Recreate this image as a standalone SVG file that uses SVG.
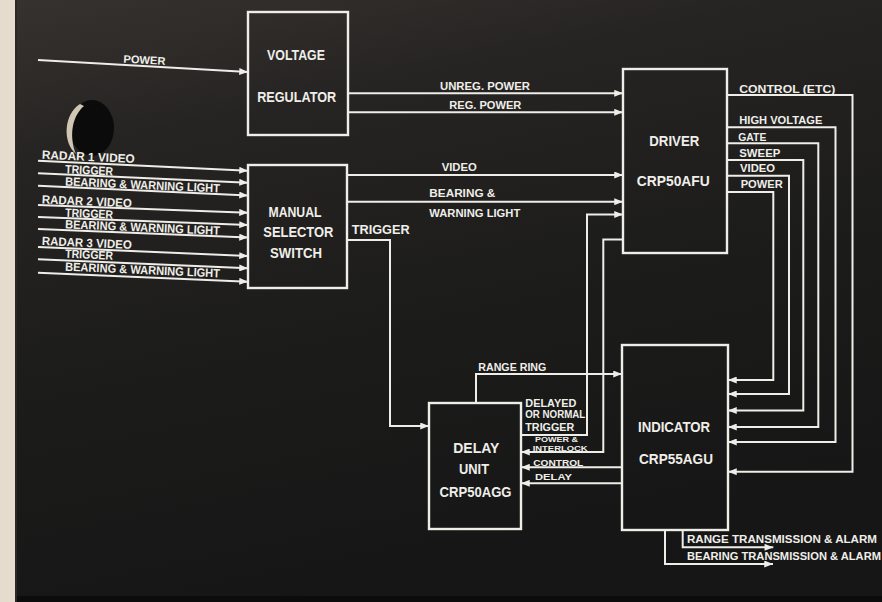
<svg xmlns="http://www.w3.org/2000/svg" width="882" height="602" viewBox="0 0 882 602">
<defs>
<linearGradient id="bg" x1="0" y1="0" x2="0.3" y2="1">
<stop offset="0" stop-color="#363230"/>
<stop offset="0.25" stop-color="#262422"/>
<stop offset="0.6" stop-color="#1c1c1b"/>
<stop offset="1" stop-color="#161616"/>
</linearGradient>
<marker id="arr" viewBox="0 0 10 8" refX="10" refY="4" markerWidth="9" markerHeight="7" markerUnits="userSpaceOnUse" orient="auto">
<path d="M0,0 L10,4 L0,8 z" fill="#eeede8"/>
</marker>
<style>
.ln{fill:none;stroke:#eeede8;stroke-width:2;stroke-linejoin:miter}
.ar{marker-end:url(#arr)}
.box{fill:none;stroke:#eeede8;stroke-width:2.4}
text{font-family:"Liberation Sans",Arial,sans-serif;font-weight:bold;fill:#efeee9}
.bx{font-size:15px;text-anchor:middle}
.lb{font-size:11px}
.in{font-size:12px}
.sm{font-size:8px}
.md{font-size:9.5px}
</style>
</defs>
<rect x="0" y="0" width="882" height="602" fill="url(#bg)"/>
<rect x="0" y="0" width="16" height="602" fill="#e6dccd"/>
<rect x="15" y="0" width="2" height="602" fill="#2a2724"/>
<rect x="17" y="596" width="865" height="6" fill="#0c0c0c"/>
<!-- screw hole -->
<g id="hole">
<ellipse cx="92" cy="128" rx="22" ry="28" fill="#0b0b0b"/>
<path d="M80,104 C64,114 62,142 76,154 C70,140 70,118 84,106 z" fill="#cfc6b4"/>
</g>

<g id="connectors">
<path class="ln ar" d="M38,60 L248,72"/>
<path class="ln ar" d="M348,93.3 L623,93.3"/>
<path class="ln ar" d="M348,112.3 L623,112.3"/>
<path class="ln ar" d="M347,175 L623,175"/>
<path class="ln ar" d="M347,201.7 L623,201.7"/>
<path class="ln ar" d="M521,435 L587,435 L587,214.5 L623,214.5"/>
<path class="ln ar" d="M623,239.5 L603.3,239.5 L603.3,452 L521,452"/>
<path class="ln ar" d="M622,467.3 L521,467.3"/>
<path class="ln ar" d="M622,483.3 L521,483.3"/>
<path class="ln ar" d="M476,403 L476,374 L622,374"/>
<path class="ln ar" d="M347,240 L390,240 L390,426 L429,426"/>
<path class="ln ar" d="M727,95 L852.5,95 L852.5,471.7 L728,471.7"/>
<path class="ln ar" d="M727,127.3 L835.5,127.3 L835.5,442 L728,442"/>
<path class="ln ar" d="M727,143.3 L818.3,143.3 L818.3,427 L728,427"/>
<path class="ln ar" d="M727,160 L803.3,160 L803.3,410.5 L728,410.5"/>
<path class="ln ar" d="M727,175.7 L789,175.7 L789,394 L728,394"/>
<path class="ln ar" d="M727,192 L773.3,192 L773.3,380 L728,380"/>
<path class="ln ar" d="M682.7,530 L682.7,547.3 L773.3,547.3"/>
<path class="ln ar" d="M665,530 L665,564 L773,564"/>
<path class="ln ar" d="M38,160.7 L248,170.7"/>
<path class="ln ar" d="M38,173.3 L248,182.7"/>
<path class="ln ar" d="M38,185.7 L248,195.5"/>
<path class="ln ar" d="M38,205 L248,212.7"/>
<path class="ln ar" d="M38,217 L248,225"/>
<path class="ln ar" d="M38,229 L248,237.5"/>
<path class="ln ar" d="M38,247 L248,256"/>
<path class="ln ar" d="M38,259.3 L248,268.3"/>
<path class="ln ar" d="M38,272.7 L248,281.7"/>
</g>

<g id="connector-labels">
<text class="lb" x="123.3" y="62.7" textLength="42" lengthAdjust="spacingAndGlyphs" transform="rotate(3 123.3 62.7)">POWER</text>
<text class="lb" x="440" y="90" textLength="90" lengthAdjust="spacingAndGlyphs">UNREG. POWER</text>
<text class="lb" x="449.3" y="109.3" textLength="72" lengthAdjust="spacingAndGlyphs">REG. POWER</text>
<text class="lb" x="441.7" y="171" textLength="35" lengthAdjust="spacingAndGlyphs">VIDEO</text>
<text class="lb" x="429.3" y="197.3" textLength="66" lengthAdjust="spacingAndGlyphs">BEARING &amp;</text>
<text class="lb" x="429.3" y="216.7" textLength="91" lengthAdjust="spacingAndGlyphs">WARNING LIGHT</text>
<text x="351.7" y="234.3" style="font-size:13.5px" textLength="58" lengthAdjust="spacingAndGlyphs">TRIGGER</text>
<text class="lb" x="478.3" y="370.7" textLength="68" lengthAdjust="spacingAndGlyphs">RANGE RING</text>
<text class="lb" x="525.3" y="406.7" textLength="51" lengthAdjust="spacingAndGlyphs">DELAYED</text>
<text class="lb" x="525.3" y="417.8" textLength="60" lengthAdjust="spacingAndGlyphs">OR NORMAL</text>
<text class="lb" x="525.3" y="430.7" textLength="49" lengthAdjust="spacingAndGlyphs">TRIGGER</text>
<text class="sm" x="535" y="442.3" textLength="43" lengthAdjust="spacingAndGlyphs">POWER &amp;</text>
<text class="sm" x="532.7" y="450.5" textLength="55" lengthAdjust="spacingAndGlyphs">INTERLOCK</text>
<text class="md" x="533.3" y="465.5" textLength="50" lengthAdjust="spacingAndGlyphs">CONTROL</text>
<text class="md" x="535" y="480" textLength="37" lengthAdjust="spacingAndGlyphs">DELAY</text>
<text class="lb" x="739.3" y="92.7" textLength="96" lengthAdjust="spacingAndGlyphs">CONTROL (ETC)</text>
<text class="lb" x="739.3" y="124" textLength="83" lengthAdjust="spacingAndGlyphs">HIGH VOLTAGE</text>
<text class="lb" x="738.3" y="141" textLength="28" lengthAdjust="spacingAndGlyphs">GATE</text>
<text class="lb" x="739.3" y="157.3" textLength="41" lengthAdjust="spacingAndGlyphs">SWEEP</text>
<text class="lb" x="740" y="172.3" textLength="35" lengthAdjust="spacingAndGlyphs">VIDEO</text>
<text class="lb" x="740.7" y="188.3" textLength="42" lengthAdjust="spacingAndGlyphs">POWER</text>
<text class="lb" x="687" y="543.3" textLength="190" lengthAdjust="spacingAndGlyphs">RANGE TRANSMISSION &amp; ALARM</text>
<text class="lb" x="687" y="560" textLength="194" lengthAdjust="spacingAndGlyphs">BEARING TRANSMISSION &amp; ALARM</text>
<text class="in" x="41.7" y="158.8" textLength="93" lengthAdjust="spacingAndGlyphs" transform="rotate(2.6 41.7 158.8)">RADAR 1 VIDEO</text>
<text class="in" x="65" y="173.3" textLength="48" lengthAdjust="spacingAndGlyphs" transform="rotate(2.6 65 173.3)">TRIGGER</text>
<text class="in" x="65" y="185.5" textLength="155" lengthAdjust="spacingAndGlyphs" transform="rotate(2.6 65 185.5)">BEARING &amp; WARNING LIGHT</text>
<text class="in" x="41.7" y="203.5" textLength="90" lengthAdjust="spacingAndGlyphs" transform="rotate(2.4 41.7 203.5)">RADAR 2 VIDEO</text>
<text class="in" x="65" y="216.7" textLength="48" lengthAdjust="spacingAndGlyphs" transform="rotate(2.4 65 216.7)">TRIGGER</text>
<text class="in" x="65" y="228.3" textLength="155" lengthAdjust="spacingAndGlyphs" transform="rotate(2.4 65 228.3)">BEARING &amp; WARNING LIGHT</text>
<text class="in" x="41.7" y="245" textLength="90" lengthAdjust="spacingAndGlyphs" transform="rotate(2.5 41.7 245)">RADAR 3 VIDEO</text>
<text class="in" x="65" y="257.7" textLength="48" lengthAdjust="spacingAndGlyphs" transform="rotate(2.5 65 257.7)">TRIGGER</text>
<text class="in" x="65" y="270.7" textLength="155" lengthAdjust="spacingAndGlyphs" transform="rotate(2.5 65 270.7)">BEARING &amp; WARNING LIGHT</text>
</g>

<g id="voltage-regulator">
<rect class="box" x="248" y="12" width="100" height="123"/>
<text class="bx" x="296" y="60" textLength="58" lengthAdjust="spacingAndGlyphs">VOLTAGE</text>
<text class="bx" x="296.7" y="101.7" textLength="79" lengthAdjust="spacingAndGlyphs">REGULATOR</text>
</g>
<g id="manual-selector-switch">
<rect class="box" x="248" y="165" width="99" height="123"/>
<text class="bx" x="295" y="217.3" textLength="53" lengthAdjust="spacingAndGlyphs">MANUAL</text>
<text class="bx" x="298.3" y="236.7" textLength="70" lengthAdjust="spacingAndGlyphs">SELECTOR</text>
<text class="bx" x="296" y="258.3" textLength="52" lengthAdjust="spacingAndGlyphs">SWITCH</text>
</g>
<g id="driver">
<rect class="box" x="623" y="69" width="104" height="184"/>
<text class="bx" x="674.3" y="146" textLength="50" lengthAdjust="spacingAndGlyphs">DRIVER</text>
<text class="bx" x="673.3" y="186" textLength="73" lengthAdjust="spacingAndGlyphs">CRP50AFU</text>
</g>
<g id="indicator">
<rect class="box" x="622" y="345" width="106" height="185"/>
<text class="bx" x="674" y="431.7" textLength="72" lengthAdjust="spacingAndGlyphs">INDICATOR</text>
<text class="bx" x="676" y="464" textLength="74" lengthAdjust="spacingAndGlyphs">CRP55AGU</text>
</g>
<g id="delay-unit">
<rect class="box" x="429" y="403" width="92" height="126"/>
<text class="bx" x="476.3" y="453.3" textLength="46" lengthAdjust="spacingAndGlyphs">DELAY</text>
<text class="bx" x="474" y="474" textLength="30" lengthAdjust="spacingAndGlyphs">UNIT</text>
<text class="bx" x="475.5" y="496.7" textLength="72" lengthAdjust="spacingAndGlyphs">CRP50AGG</text>
</g>
</svg>
